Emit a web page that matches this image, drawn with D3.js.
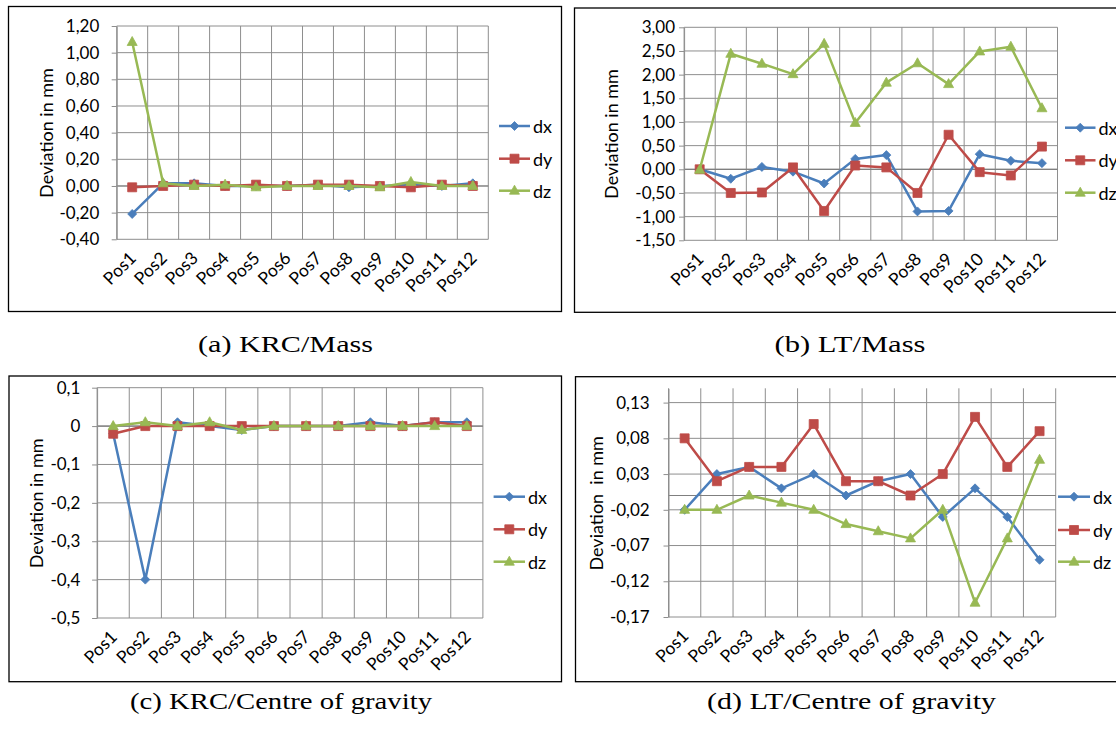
<!DOCTYPE html>
<html>
<head>
<meta charset="utf-8">
<script src="https://cdn.jsdelivr.net/npm/d3@7"></script>
<style>
  body { margin: 0; background: #fff; }
  svg { display: block; }
  text { font-family: Lato, "Open Sans", sans-serif; fill: #000; }
  .caption { font-family: "Liberation Serif", "DejaVu Serif", serif; }
</style>
</head>
<body>
<svg id="chart" width="1116" height="729"></svg>
<script>
const categories = ["Pos1", "Pos2", "Pos3", "Pos4", "Pos5", "Pos6",
    "Pos7", "Pos8", "Pos9", "Pos10", "Pos11", "Pos12"]
const seriesNames = ["dx", "dy", "dz"]
const seriesColors = ["#4a7ebb", "#be4b48", "#98b954"]

// (a) KRC/Mass
const krcMassDx = [-0.21, 0.02, 0.02, 0.00, 0.00, 0.00, 0.01, -0.01, 0.00, 0.01, 0.00, 0.02]
const krcMassDy = [-0.01, 0.00, 0.01, 0.00, 0.01, 0.00, 0.01, 0.01, 0.00, -0.01, 0.01, 0.00]
const krcMassDz = [1.08, 0.02, 0.00, 0.01, -0.01, 0.00, 0.00, 0.00, -0.01, 0.03, 0.00, 0.00]
const krcMassTicks = [-0.4, -0.2, 0, 0.2, 0.4, 0.6, 0.8, 1.0, 1.2]

// (b) LT/Mass
const ltMassDx = [0.00, -0.20, 0.05, -0.05, -0.30, 0.22, 0.30, -0.89, -0.88, 0.32, 0.18, 0.13]
const ltMassDy = [0.00, -0.50, -0.49, 0.04, -0.88, 0.08, 0.04, -0.50, 0.73, -0.06, -0.13, 0.48]
const ltMassDz = [-0.01, 2.44, 2.23, 2.01, 2.65, 0.98, 1.83, 2.24, 1.80, 2.49, 2.59, 1.29]
const ltMassTicks = [-1.5, -1.0, -0.5, 0, 0.5, 1.0, 1.5, 2.0, 2.5, 3.0]

// (c) KRC/Centre of gravity
const krcCogDx = [-0.02, -0.40, 0.01, 0.00, -0.01, 0.00, 0.00, 0.00, 0.01, 0.00, 0.01, 0.01]
const krcCogDy = [-0.02, 0.00, 0.00, 0.00, 0.00, 0.00, 0.00, 0.00, 0.00, 0.00, 0.01, 0.00]
const krcCogDz = [0.00, 0.01, 0.00, 0.01, -0.01, 0.00, 0.00, 0.00, 0.00, 0.00, 0.00, 0.00]
const krcCogTicks = [-0.5, -0.4, -0.3, -0.2, -0.1, 0, 0.1]

// (d) LT/Centre of gravity
const ltCogDx = [-0.02, 0.03, 0.04, 0.01, 0.03, 0.00, 0.02, 0.03, -0.03, 0.01, -0.03, -0.09]
const ltCogDy = [0.08, 0.02, 0.04, 0.04, 0.10, 0.02, 0.02, 0.00, 0.03, 0.11, 0.04, 0.09]
const ltCogDz = [-0.02, -0.02, 0.00, -0.01, -0.02, -0.04, -0.05, -0.06, -0.02, -0.15, -0.06, 0.05]
const ltCogTicks = [-0.17, -0.12, -0.07, -0.02, 0.03, 0.08, 0.13]

const captions = ["(a) KRC/Mass", "(b) LT/Mass", "(c) KRC/Centre of gravity", "(d) LT/Centre of gravity"]

const locale = d3.formatLocale({decimal: ",", thousands: ".", grouping: [3], currency: ["", "€"], minus: "-"})

const svg = d3.select("#chart")

const panels = [
    {box: [8.5, 6.5, 561.5, 311.5], l: 116.7, r: 488.3, t: 26, b: 239.3,
     domain: [-0.4, 1.2], ticks: krcMassTicks, fmt: ".2f", pad: 12.4,
     ylab: "Deviation in mm", ylx: 45.7, yly: 133,
     lx1: 499, lx2: 530, ly: [126, 158.7, 190.7],
     cap: captions[0], cx: 285.5, cy: 351.7, cw: 175,
     data: [krcMassDx, krcMassDy, krcMassDz]},
    {box: [574.5, 8, 1130, 312.3], l: 684.1, r: 1057.5, t: 27.3, b: 240.3,
     domain: [-1.5, 3], ticks: ltMassTicks, fmt: ".2f", pad: 4,
     ylab: "Deviation in mm", ylx: 610.7, yly: 134,
     lx1: 1065, lx2: 1095.5, ly: [127.7, 160.3, 192.7],
     cap: captions[1], cx: 850, cy: 351.7, cw: 151,
     data: [ltMassDx, ltMassDy, ltMassDz]},
    {box: [9, 376, 561.5, 681.7], l: 97.1, r: 482.9, t: 387.7, b: 618,
     domain: [-0.5, 0.1], ticks: krcCogTicks, fmt: ".1~f", pad: 11.8,
     ylab: "Deviation in mm", ylx: 35.7, yly: 503.3,
     lx1: 493.6, lx2: 525, ly: [496.7, 529.3, 561.7],
     cap: captions[2], cx: 281, cy: 709, cw: 302,
     data: [krcCogDx, krcCogDy, krcCogDz]},
    {box: [575.5, 376.7, 1130, 681.7], l: 668.5, r: 1055.7, t: 388.3, b: 617,
     domain: [-0.17, 0.15], ticks: ltCogTicks, fmt: ".2f", pad: 13.8,
     ylab: "Deviation  in mm", ylx: 595.5, yly: 503.3,
     lx1: 1058, lx2: 1090, ly: [496.7, 530, 561.7],
     cap: captions[3], cx: 851.5, cy: 709, cw: 289,
     data: [ltCogDx, ltCogDy, ltCogDz]}
]

// marker shapes for dx / dy / dz
const markerPath = [
    "M0,-4.5L4.5,0L0,4.5L-4.5,0Z",
    "M-4.5,-4.5H4.5V4.5H-4.5Z",
    "M0,-5.5L5,3.5L-5,3.5Z"
]

const gridColor = "#8e8e8e"

panels.forEach(p => {
    const g = svg.append("g")

    // outer frame
    g.append("rect")
        .attr("x", p.box[0]).attr("y", p.box[1])
        .attr("width", p.box[2] - p.box[0]).attr("height", p.box[3] - p.box[1])
        .attr("fill", "none").attr("stroke", "#000").attr("stroke-width", 1.3)

    const x = d3.scaleBand().domain(categories).range([p.l, p.r])
    const y = d3.scaleLinear().domain(p.domain).range([p.b, p.t])
    const cx = d => x(d) + x.bandwidth() / 2

    // horizontal gridlines
    g.append("g").selectAll("line").data(p.ticks).join("line")
        .attr("x1", p.l).attr("x2", p.r)
        .attr("y1", d => y(d)).attr("y2", d => y(d))
        .attr("stroke", gridColor).attr("stroke-width", 1)

    // vertical gridlines at category borders
    const borders = categories.map(c => x(c)).concat([p.r])
    g.append("g").selectAll("line").data(borders).join("line")
        .attr("x1", d => d).attr("x2", d => d)
        .attr("y1", p.t).attr("y2", p.b)
        .attr("stroke", gridColor).attr("stroke-width", 1)

    // category axis crosses at zero
    g.append("line")
        .attr("x1", p.l).attr("x2", p.r)
        .attr("y1", y(0)).attr("y2", y(0))
        .attr("stroke", "#7f7f7f").attr("stroke-width", 1.2)

    // y axis
    const yAxis = g.append("g")
        .attr("transform", `translate(${p.l},0)`)
        .call(d3.axisLeft(y).tickValues(p.ticks).tickSize(5).tickSizeOuter(0)
            .tickPadding(p.pad).tickFormat(locale.format(p.fmt)))
    yAxis.select(".domain").attr("stroke", gridColor)
    yAxis.selectAll(".tick line").attr("stroke", gridColor)
    yAxis.selectAll("text").style("font-size", "17px").style("font-family", "Lato, sans-serif").attr("fill", "#000")

    // x axis labels at the bottom, rotated
    const xAxis = g.append("g")
        .attr("transform", `translate(0,${p.b})`)
        .call(d3.axisBottom(x).tickSize(0))
    xAxis.select(".domain").remove()
    xAxis.selectAll("text")
        .attr("x", 0).attr("y", 0).attr("dy", 0)
        .attr("text-anchor", "end")
        .attr("transform", "translate(5,20) rotate(-45)")
        .style("font-size", "17.5px").style("font-family", "Lato, sans-serif").attr("fill", "#000")

    // y label
    g.append("text")
        .attr("transform", `translate(${p.ylx},${p.yly}) rotate(-90)`)
        .attr("text-anchor", "middle")
        .attr("dominant-baseline", "central")
        .style("font-size", "18px")
        .style("white-space", "pre")
        .text(p.ylab)

    // series
    const line = d3.line().x((d, i) => cx(categories[i])).y(d => y(d))
    p.data.forEach((vals, s) => {
        g.append("path")
            .attr("d", line(vals))
            .attr("fill", "none")
            .attr("stroke", seriesColors[s])
            .attr("stroke-width", 2.5)
            .attr("stroke-linejoin", "round")
        g.append("g").selectAll("path").data(vals).join("path")
            .attr("transform", (d, i) => `translate(${cx(categories[i])},${y(d)})`)
            .attr("d", markerPath[s])
            .attr("fill", seriesColors[s])
            .attr("stroke", seriesColors[s])
            .attr("stroke-width", 0.8)
    })

    // legend
    seriesNames.forEach((name, s) => {
        const ly = p.ly[s]
        g.append("line")
            .attr("x1", p.lx1).attr("x2", p.lx2)
            .attr("y1", ly).attr("y2", ly)
            .attr("stroke", seriesColors[s]).attr("stroke-width", 2.5)
        g.append("path")
            .attr("transform", `translate(${(p.lx1 + p.lx2) / 2},${ly})`)
            .attr("d", markerPath[s])
            .attr("fill", seriesColors[s])
            .attr("stroke", seriesColors[s]).attr("stroke-width", 0.8)
        g.append("text")
            .attr("x", p.lx2 + 3).attr("y", ly)
            .attr("dominant-baseline", "central")
            .style("font-size", "18px")
            .text(name)
    })

    // caption
    g.append("text")
        .attr("class", "caption")
        .attr("x", p.cx - p.cw / 2).attr("y", p.cy)
        .attr("textLength", p.cw)
        .attr("lengthAdjust", "spacingAndGlyphs")
        .style("font-size", "22.5px")
        .text(p.cap)
})
</script>
</body>
</html>
